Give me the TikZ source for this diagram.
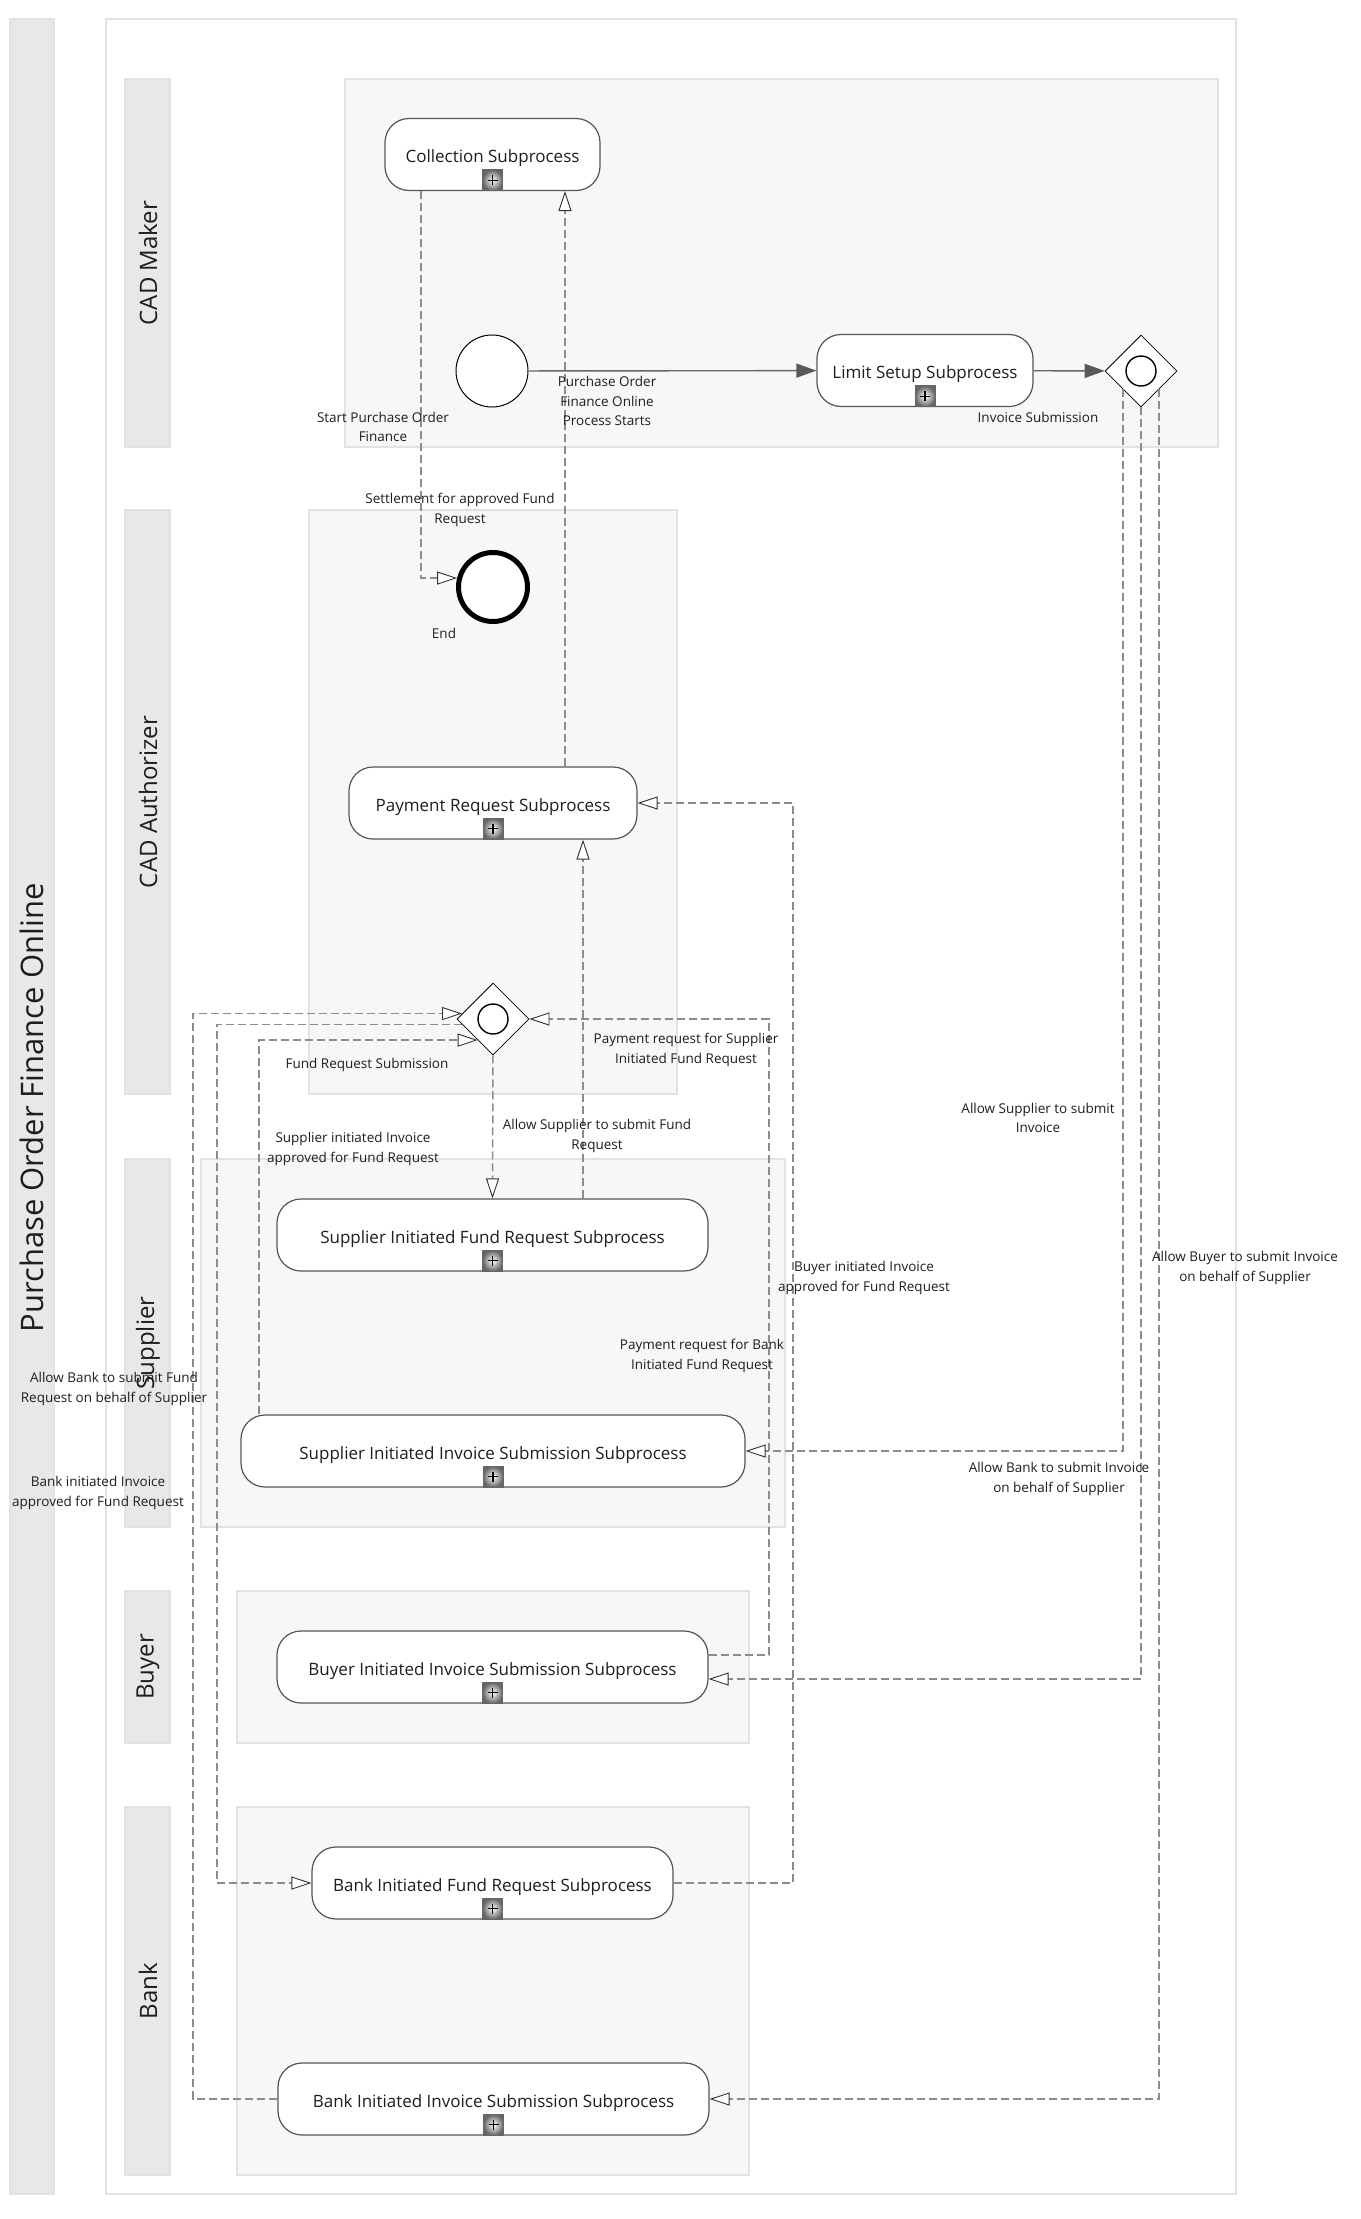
\documentclass[tikz,border=0pt]{standalone}
\usepackage{fontspec}
\setmainfont{Open Sans}
\usepackage{tikz}
\tikzset{>=latex}
\usetikzlibrary{arrows.meta,calc,positioning,shapes.geometric}
\definecolor{lanefill}{HTML}{F7F7F7}
\definecolor{laneline}{HTML}{E2E2E2}
\definecolor{headfill}{HTML}{E8E8E8}
\definecolor{flowgray}{HTML}{8C8C8C}
\definecolor{boxline}{HTML}{555555}
\definecolor{txt}{HTML}{1E1E1E}
\tikzset{
  lanebox/.style={fill=lanefill, draw=laneline, line width=1.5pt},
  headbox/.style={fill=headfill, draw=laneline, line width=1.5pt},
  headtext/.style={rotate=90, text=txt, font=\fontsize{24}{28}\selectfont},
  task/.style={draw=boxline, fill=white, line width=1.2pt, rounded corners=24pt, minimum height=72pt, inner sep=0pt,
    text height=20pt, text depth=4pt, text=txt, font=\fontsize{17}{20}\selectfont},
  evt/.style={circle, draw=black, fill=white, line width=1pt, minimum size=72pt, inner sep=0pt},
  endevt/.style={circle, draw=black, fill=white, line width=5pt, minimum size=69pt, inner sep=0pt},
  gate/.style={diamond, aspect=1, draw=black, fill=white, line width=0.8pt, minimum width=72pt, minimum height=72pt, inner sep=0pt},
  gatemark/.style={circle, draw=black, line width=1.4pt, minimum size=30pt, inner sep=0pt},
  submk/.style={draw=black!60, line width=0.8pt, minimum width=20pt, minimum height=21pt, inner sep=0pt, anchor=south,
    shading=radial, inner color=white, outer color=black!60,
    path picture={\draw[black, line width=1.3pt] ($(path picture bounding box.center)+(-5pt,0)$) -- +(10pt,0)
      ($(path picture bounding box.center)+(0,-5pt)$) -- +(0,10pt);}},
  flowsolid/.style={draw=black!60, line width=1.4pt, -{Triangle[length=20pt,width=14pt,color=black!65,fill=black!65]}},
  flowdash/.style={draw=flowgray, line width=1.5pt, dash pattern=on 8pt off 4pt, -{Triangle[length=20pt,width=13pt,line width=0.9pt,color=black!80,fill=white]}},
  lbl/.style={align=center, text=txt, font=\fontsize{13.5}{19.5}\selectfont, inner sep=0pt}
}
\begin{document}
\begin{tikzpicture}[x=1pt,y=-1pt]
\useasboundingbox (0,0) rectangle (1360,2219);
% pool and lanes
\draw[headbox] (10,19) rectangle (54,2194);
\node[rotate=90, text=txt, font=\fontsize{31}{36}\selectfont] (title) at (32,1108) {Purchase Order Finance Online};
\draw[fill=white, draw=laneline, line width=1.5pt] (106,19) rectangle (1236,2194);
\foreach \ya/\yb/\key/\lane in {79/447/maker/CAD Maker, 510/1094/auth/CAD Authorizer, 1159/1527/supp/Supplier, 1591/1743/buyer/Buyer, 1807/2175/bank/Bank}
{
  \draw[headbox] (125,\ya) rectangle (170,\yb);
  \node[headtext] (hd-\key) at (148,{(\ya+\yb)/2}) {\lane};
}
\draw[lanebox] (345,79) rectangle (1218,447);
\draw[lanebox] (309,510) rectangle (677,1094);
\draw[lanebox] (201,1159) rectangle (785,1527);
\draw[lanebox] (237,1591) rectangle (749,1743);
\draw[lanebox] (237,1807) rectangle (749,2175);

% events, gateways, subprocesses
\node[evt] (start) at (492,371) {};
\node[endevt] (endev) at (493,587) {};
\node[gate] (gw1) at (1141,371) {};
\node[gatemark] (gw1m) at (gw1) {};
\node[gate] (gw2) at (493,1019) {};
\node[gatemark] (gw2m) at (gw2) {};

\node[task, minimum width=215pt] (coll) at (492.5,154.5) {Collection Subprocess};
\node[task, minimum width=216pt] (limit) at (925,370.5) {Limit Setup Subprocess};
\node[task, minimum width=288pt] (pay) at (493,803) {Payment Request Subprocess};
\node[task, minimum width=431pt] (sfr) at (492.5,1235) {Supplier Initiated Fund Request Subprocess};
\node[task, minimum width=504pt] (sis) at (493,1451) {Supplier Initiated Invoice Submission Subprocess};
\node[task, minimum width=431pt] (bis) at (492.5,1667) {Buyer Initiated Invoice Submission Subprocess};
\node[task, minimum width=361pt] (bfr) at (492.5,1883) {Bank Initiated Fund Request Subprocess};
\node[task, minimum width=431pt] (bkis) at (493.5,2099) {Bank Initiated Invoice Submission Subprocess};
\foreach \t in {coll,limit,pay,sfr,sis,bis,bfr,bkis}
  \node[submk] (\t-m) at (\t.south) {};

% columns of the dashed flows
\coordinate (xa) at (421,0);
\coordinate (xb) at (565,0);
\coordinate (xc) at (583,0);
\coordinate (xd) at (793,0);
\coordinate (xe) at (769,0);
\coordinate (xf) at (259,0);
\coordinate (xg) at (193,0);
\coordinate (xh) at (217,0);

\draw[flowsolid] (start) -- (limit);
\draw[flowsolid] (limit) -- (gw1);
\draw[flowdash] (coll.south -| xa) |- (endev.166);
\draw[flowdash] (pay.north -| xb) -- (coll.south -| xb);
\draw[flowdash] (sfr.north -| xc) -- (pay.south -| xc);
\draw[flowdash] (bfr.east) -| (xd |- pay.east) -- (pay.east);
\draw[flowdash] ($(bis.east)+(0,-12)$) -| (xe |- gw2.east) -- (gw2.east);
\draw[flowdash] (sis.north -| xf) |- (gw2.234);
\draw[flowdash] (bkis.west) -| (xg |- gw2.170) -- (gw2.170);
\draw[flowdash] (gw2.190) -| (xh |- bfr.west) -- (bfr.west);
\draw[flowdash] (gw2.south) -- (sfr.north);
\draw[flowdash] (gw1.south west) |- (sis.east);
\draw[flowdash] (gw1.south) |- ($(bis.east)+(0,12)$);
\draw[flowdash] (gw1.south east) |- (bkis.east);

% labels
\node[lbl] (l-start) at (383,427) {Start Purchase Order\\Finance};
\node[lbl] (l-pofo) at (607,401) {Purchase Order\\Finance Online\\Process Starts};
\node[lbl] (l-inv) at (1038,417) {Invoice Submission};
\node[lbl] (l-settle) at (460,510) {Settlement for approved Fund\\Request};
\node[lbl] (l-end) at (444,633) {End};
\node[lbl] (l-frs) at (367,1065) {Fund Request Submission};
\node[lbl] (l-psup) at (686,1050) {Payment request for Supplier\\Initiated Fund Request};
\node[lbl] (l-asfr) at (597,1136) {Allow Supplier to submit Fund\\Request};
\node[lbl] (l-sii) at (353,1149) {Supplier initiated Invoice\\approved for Fund Request};
\node[lbl] (l-asi) at (1038,1118) {Allow Supplier to submit\\Invoice};
\node[lbl] (l-bii) at (864,1278) {Buyer initiated Invoice\\approved for Fund Request};
\node[lbl] (l-abi) at (1245,1268) {Allow Buyer to submit Invoice\\on behalf of Supplier};
\node[lbl] (l-pbank) at (702,1356) {Payment request for Bank\\Initiated Fund Request};
\node[lbl] (l-abfr) at (114,1389) {Allow Bank to submit Fund\\Request on behalf of Supplier};
\node[lbl] (l-bkii) at (98,1493) {Bank initiated Invoice\\approved for Fund Request};
\node[lbl] (l-abinv) at (1059,1479) {Allow Bank to submit Invoice\\on behalf of Supplier};
\end{tikzpicture}
\end{document}
